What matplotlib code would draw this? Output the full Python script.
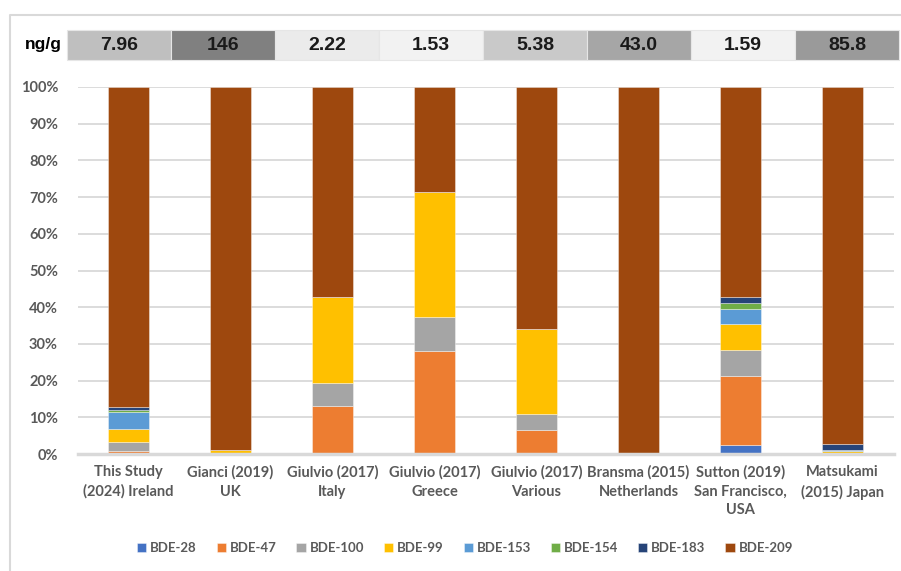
import numpy as np
import matplotlib
matplotlib.use("Agg")
import matplotlib.pyplot as plt
from matplotlib.patches import Rectangle

studies = ["This Study\n(2024) Ireland", "Gianci (2019)\nUK", "Giulvio (2017)\nItaly",
           "Giulvio (2017)\nGreece", "Giulvio (2017)\nVarious", "Bransma (2015)\nNetherlands",
           "Sutton (2019)\nSan Francisco,\nUSA", "Matsukami\n(2015) Japan"]
totals = ["7.96", "146", "2.22", "1.53", "5.38", "43.0", "1.59", "85.8"]
total_shades = ["#bfbfbf", "#808080", "#ebebeb", "#f2f2f2", "#c9c9c9", "#a6a6a6", "#f2f2f2", "#9a9a9a"]

congeners = ["BDE-28", "BDE-47", "BDE-100", "BDE-99", "BDE-153", "BDE-154", "BDE-183", "BDE-209"]
colors = ["#4472c4", "#ed7d31", "#a5a5a5", "#ffc000", "#5b9bd5", "#70ad47", "#264478", "#9e480e"]

# percent of total per congener, per study
bde28 = [0.1, 0.0, 0.4, 0.0, 0.0, 0.0, 2.5, 0.0]
bde47 = [0.7, 0.2, 12.6, 28.1, 6.5, 0.0, 18.8, 0.4]
bde100 = [2.5, 0.0, 6.3, 9.1, 4.3, 0.0, 7.1, 0.0]
bde99 = [3.5, 0.9, 23.5, 34.1, 23.2, 0.0, 6.9, 0.5]
bde153 = [4.7, 0.0, 0.0, 0.0, 0.0, 0.0, 4.3, 0.3]
bde154 = [0.6, 0.0, 0.0, 0.0, 0.0, 0.0, 1.5, 0.0]
bde183 = [0.8, 0.0, 0.0, 0.0, 0.0, 0.0, 1.8, 1.6]
bde209 = [87.1, 98.9, 57.2, 28.7, 66.0, 100.0, 57.1, 97.2]

series = [bde28, bde47, bde100, bde99, bde153, bde154, bde183, bde209]

W, H = 901, 571
fig = plt.figure(figsize=(W / 100, H / 100), dpi=100)
fig.patch.set_facecolor("white")

grey = "#595959"
lab_font = "Lato"

ax = fig.add_axes([77.5 / W, 1 - 454 / H, 816 / W, 367 / H])
x = np.arange(len(studies))
bottom = np.zeros(len(studies))
for name, vals, c in zip(congeners, series, colors):
    v = np.array(vals) / 100.0
    ax.bar(x, v, 0.4, bottom=bottom, color=c, label=name,
           edgecolor=(1, 1, 1, 0.45), linewidth=0.6, zorder=3)
    bottom += v

ax.set_xlim(-0.5, len(studies) - 0.5)
ax.set_ylim(0, 1)
ax.set_yticks(np.arange(0, 1.01, 0.1))
ax.set_yticklabels(["{}%".format(int(round(t * 100))) for t in np.arange(0, 1.01, 0.1)])
ax.yaxis.grid(True, color="#d9d9d9", linewidth=1.3, zorder=0)
for s in ["top", "right", "left"]:
    ax.spines[s].set_visible(False)
ax.spines["bottom"].set_color("#d9d9d9")
ax.spines["bottom"].set_linewidth(2.5)
ax.spines["bottom"].set_zorder(4)
ax.tick_params(axis="both", length=0)
ax.tick_params(axis="y", pad=14)
ax.tick_params(axis="x", pad=8)
ax.set_xticks(x)
ax.set_xticklabels(studies, linespacing=1.45)
for t in ax.get_yticklabels():
    t.set_fontfamily(lab_font)
    t.set_fontweight("bold")
    t.set_fontsize(10.5)
    t.set_color(grey)
for t in ax.get_xticklabels():
    t.set_fontfamily(lab_font)
    t.set_fontweight("bold")
    t.set_fontsize(10.5)
    t.set_color(grey)

leg = fig.legend(loc="center", bbox_to_anchor=(465 / W, 1 - 548 / H), ncol=8, frameon=False,
                 handlelength=0.7, handleheight=0.7, handletextpad=0.3, columnspacing=1.5,
                 prop={"family": lab_font, "weight": "bold", "size": 9.5})
for t in leg.get_texts():
    t.set_color(grey)

# overlay in pixel coordinates: outer frame and the ng/g row
ov = fig.add_axes([0, 0, 1, 1], zorder=-1)
ov.set_xlim(0, W)
ov.set_ylim(H, 0)
ov.axis("off")
ov.plot([10, 10, W], [H, 15, 15], color="#d9d9d9", linewidth=1.5)

top = fig.add_axes([0, 0, 1, 1])
top.set_xlim(0, W)
top.set_ylim(H, 0)
top.axis("off")
top.patch.set_alpha(0)
cell_w = 104
x0 = 67
for i, (val, shade) in enumerate(zip(totals, total_shades)):
    top.add_patch(Rectangle((x0 + i * cell_w, 30), cell_w, 30, facecolor=shade,
                            edgecolor="#e6e6e6", linewidth=0.8))
    top.text(x0 + i * cell_w + cell_w / 2, 45.5, val, ha="center", va="center",
             fontsize=14, fontweight="bold", color="#1a1a1a", family="Liberation Sans")
top.text(62, 45, "ng/g", ha="right", va="center", fontsize=12.5, fontweight="bold",
         color="black", family="Liberation Sans")

fig.savefig("out.png", dpi=100)
